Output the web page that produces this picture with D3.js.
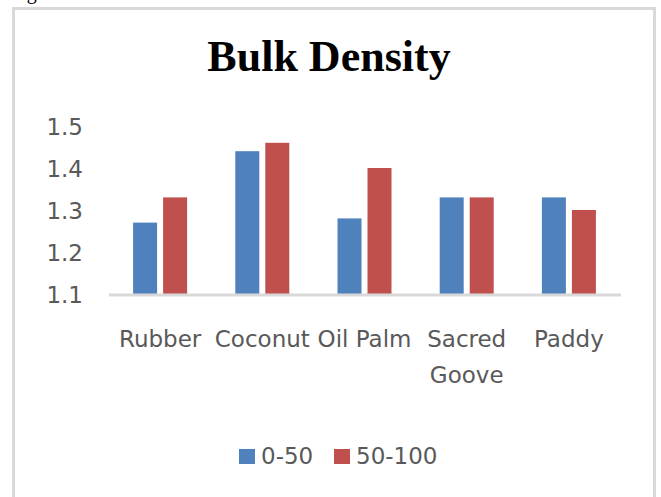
<!DOCTYPE html>
<html>
<head>
<meta charset="utf-8">
<script src="https://cdn.jsdelivr.net/npm/d3@7"></script>
<style>
  html, body { margin: 0; padding: 0; background: #ffffff; }
  svg { display: block; }
</style>
</head>
<body>
<svg id="chart" width="661" height="497"></svg>
<script>
// Bulk density by land use, two soil depths (cm)
const categories = ["Rubber", "Coconut", "Oil Palm", "Sacred Goove", "Paddy"];
const seriesNames = ["0-50", "50-100"];
const depth0to50 = [1.27, 1.44, 1.28, 1.33, 1.33];
const depth50to100 = [1.33, 1.46, 1.40, 1.33, 1.30];
const yTicks = [1.1, 1.2, 1.3, 1.4, 1.5];
const colors = ["#4f81bd", "#c0504d"];

const series = [depth0to50, depth50to100];
const labelFont = "'DejaVu Sans', sans-serif";
const textGray = "#595959";

const svg = d3.select("#chart");

// caption fragment above the frame
svg.append("text")
  .attr("x", 10).attr("y", -1)
  .attr("font-family", "'Liberation Serif', serif")
  .attr("font-size", 20)
  .attr("fill", "#000")
  .text("Fig.");

// chart frame
svg.append("rect")
  .attr("x", 13.5).attr("y", 8.5)
  .attr("width", 641).attr("height", 520)
  .attr("fill", "#fff")
  .attr("stroke", "#d9d9d9")
  .attr("stroke-width", 3);

// title
svg.append("text")
  .attr("x", 329).attr("y", 71)
  .attr("text-anchor", "middle")
  .attr("font-family", "'Liberation Serif', 'Times New Roman', serif")
  .attr("font-weight", "bold")
  .attr("font-size", 44)
  .attr("fill", "#000")
  .text("Bulk Density");

const x = d3.scaleBand().domain(categories).range([109, 620]);
const y = d3.scaleLinear().domain([1.1, 1.5]).range([294, 126]);

const barW = 24, barGap = 6;
const groupW = barW * 2 + barGap;

// bars
series.forEach((vals, si) => {
  svg.append("g").selectAll("rect")
    .data(vals)
    .join("rect")
    .attr("x", (d, i) => x(categories[i]) + (x.bandwidth() - groupW) / 2 + si * (barW + barGap))
    .attr("y", d => y(d))
    .attr("width", barW)
    .attr("height", d => y(1.1) - y(d))
    .attr("fill", colors[si]);
});

// y axis labels
const yAxis = svg.append("g")
  .attr("transform", "translate(83,0)")
  .call(d3.axisLeft(y).tickValues(yTicks).tickSize(0).tickPadding(0).tickFormat(d3.format(".1f")));
yAxis.select(".domain").remove();
yAxis.selectAll("text")
  .attr("font-family", labelFont)
  .attr("font-size", 23)
  .attr("fill", textGray)
  .attr("dy", "0.36em");

// x axis
const xAxis = svg.append("g")
  .attr("transform", "translate(0,295)")
  .call(d3.axisBottom(x).tickSize(0).tickPadding(0));
xAxis.select(".domain")
  .attr("d", "M109,0H621")
  .attr("stroke", "#d9d9d9")
  .attr("stroke-width", 3);
xAxis.selectAll(".tick text")
  .attr("font-family", labelFont)
  .attr("font-size", 23)
  .attr("fill", textGray)
  .attr("y", 52)
  .attr("dy", 0)
  .each(function(d) {
    const t = d3.select(this);
    if (this.getComputedTextLength() > x.bandwidth()) {
      const words = d.split(" ");
      t.text(null);
      words.forEach((w, i) => {
        t.append("tspan").attr("x", 0).attr("dy", i === 0 ? 0 : 36).text(w);
      });
    }
  });

// legend
const legendX = [239, 334];
seriesNames.forEach((name, i) => {
  svg.append("rect")
    .attr("x", legendX[i]).attr("y", 449)
    .attr("width", 16).attr("height", 15)
    .attr("fill", colors[i]);
  svg.append("text")
    .attr("x", legendX[i] + 22).attr("y", 464)
    .attr("font-family", labelFont)
    .attr("font-size", 23)
    .attr("fill", textGray)
    .text(name);
});
</script>
</body>
</html>
